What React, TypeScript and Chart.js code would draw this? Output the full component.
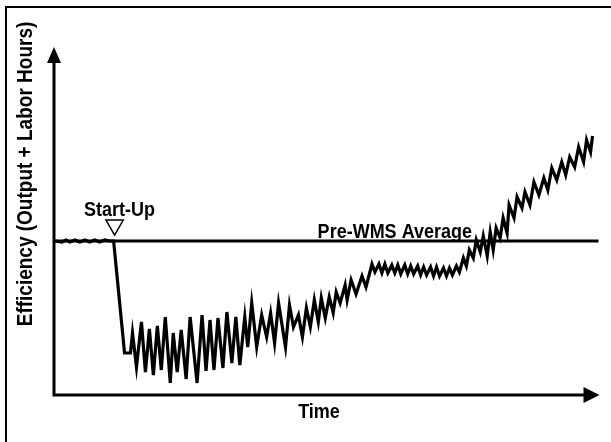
import { useEffect, useRef } from "react";
import { Chart, registerables } from "chart.js";

Chart.register(...registerables);

// Time (arbitrary units from the vertical axis) and efficiency (arbitrary units)
const TIME: number[] = [
  -1, 6, 10, 14, 19, 24, 29, 34, 39, 44, 49, 54, 58,
  69, 75, 77, 81, 86, 90, 94, 98, 102, 106, 110, 115, 118, 122, 126, 131, 135,
  142, 147, 151, 155, 159, 163, 168, 172, 177, 181, 185, 190, 193, 197, 202,
  207, 212, 216, 220, 224, 231, 235, 239, 244, 248, 252, 256, 260, 264, 267,
  271, 275, 279, 282, 286, 291, 293, 297, 302, 308, 312, 318,
  321, 325, 328, 331, 334, 338, 341, 344, 347, 351, 354, 357, 360, 364, 367,
  370, 373, 377, 380, 383, 386, 390, 393, 396, 399, 403, 406, 410,
  413, 416, 420, 423, 427, 430, 434, 437, 440, 443, 447, 450, 454, 456, 461,
  464, 469, 472, 477, 481, 486, 491, 495, 499, 504, 509, 513, 517, 522, 526,
  531, 534, 538, 540, 542,
];
const EFFICIENCY: number[] = [
  158, 157, 159, 157, 159, 157, 159, 157, 159, 157, 159, 158, 158,
  46, 46, 66, 32, 77, 27, 70, 24, 73, 29, 82, 16, 66, 27, 69, 20, 82,
  16, 84, 28, 79, 29, 81, 31, 87, 36, 82, 34, 82, 52, 96, 52,
  84, 62, 86, 56, 96, 52, 94, 72, 84, 62, 91, 72, 99, 77, 101,
  81, 102, 86, 107, 96, 114, 99, 119, 105, 123, 112, 135,
  127, 135, 126, 135, 126, 134, 126, 134, 125, 134, 125, 133, 125, 133, 124,
  132, 124, 132, 123, 132, 123, 131, 123, 131, 124, 133, 127,
  141, 133, 149, 141, 159, 147, 163, 143, 167, 149, 171, 161, 181, 166, 194,
  181, 202, 191, 207, 194, 217, 204, 221, 209, 231, 219, 237, 224, 242, 232,
  252, 237, 259, 247, 263,
];

const PRE_WMS_AVERAGE = 158;
const PRE_WMS_SPAN: number[] = [-2, 546];
const START_UP_TIME = 59;
const START_UP_MARK = 174;

const TEXT_START_UP = "Start-Up";
const TEXT_PRE_WMS = "Pre-WMS Average";
const TEXT_X_TITLE = "Time";
const TEXT_Y_TITLE = "Efficiency (Output + Labor Hours)";

const FONT = '"Liberation Sans", Arial, sans-serif';

function drawText(
  ctx: CanvasRenderingContext2D,
  text: string,
  x: number,
  y: number,
  size: number,
  rotate = 0,
  align: CanvasTextAlign = "center"
) {
  ctx.save();
  ctx.translate(x, y);
  if (rotate) ctx.rotate(rotate);
  ctx.scale(1, 1.12);
  ctx.font = `bold ${size}px ${FONT}`;
  ctx.fillStyle = "#000";
  ctx.textAlign = align;
  ctx.textBaseline = "alphabetic";
  ctx.fillText(text, 0, 0);
  ctx.restore();
}

const decorPlugin = {
  id: "decor",
  beforeDatasetsDraw(chart: any) {
    const { ctx, chartArea } = chart;
    const { left, right, top, bottom } = chartArea;
    ctx.save();
    // frame (top & left edges visible)
    ctx.strokeStyle = "#000";
    ctx.lineWidth = 2;
    ctx.beginPath();
    ctx.moveTo(6, chart.height + 5);
    ctx.lineTo(6, 7);
    ctx.lineTo(chart.width + 5, 7);
    ctx.stroke();

    // axes
    ctx.lineWidth = 3;
    ctx.beginPath();
    ctx.moveTo(left, top + 12);
    ctx.lineTo(left, bottom);
    ctx.lineTo(right - 12, bottom);
    ctx.stroke();
    ctx.fillStyle = "#000";
    // y arrow
    ctx.beginPath();
    ctx.moveTo(left, top + 3);
    ctx.lineTo(left - 7, top + 19);
    ctx.lineTo(left + 7, top + 19);
    ctx.closePath();
    ctx.fill();
    // x arrow
    ctx.beginPath();
    ctx.moveTo(right, bottom);
    ctx.lineTo(right - 16, bottom - 8);
    ctx.lineTo(right - 16, bottom + 8);
    ctx.closePath();
    ctx.fill();
    ctx.restore();
  },
  afterDatasetsDraw(chart: any) {
    const { ctx, chartArea, scales } = chart;
    const xs = scales.x;
    const ys = scales.y;
    drawText(ctx, TEXT_START_UP, xs.getPixelForValue(64), ys.getPixelForValue(183), 18);
    drawText(ctx, TEXT_PRE_WMS, xs.getPixelForValue(341), ys.getPixelForValue(161), 18);
    drawText(ctx, TEXT_X_TITLE, chartArea.left + 265, chartArea.bottom + 23, 18);
    drawText(ctx, TEXT_Y_TITLE, chartArea.left - 22, 174, 19, -Math.PI / 2);
  },
};

export default function App() {
  const ref = useRef<HTMLCanvasElement | null>(null);
  useEffect(() => {
    document.body.style.margin = "0";
    const canvas = ref.current!;
    const lineData = TIME.map((t, i) => ({ x: t, y: EFFICIENCY[i] }));
    const avgData = PRE_WMS_SPAN.map((t) => ({ x: t, y: PRE_WMS_AVERAGE }));
    const chart = new Chart(canvas, {
      type: "line",
      data: {
        datasets: [
          {
            label: "Pre-WMS Average",
            data: avgData,
            borderColor: "#000",
            borderWidth: 3,
            pointRadius: 0,
            tension: 0,
          },
          {
            label: "Efficiency",
            data: lineData,
            borderColor: "#000",
            borderWidth: 3.2,
            pointRadius: 0,
            tension: 0,
            borderJoinStyle: "miter",
          },
          {
            label: "Start-Up",
            type: "scatter",
            data: [{ x: START_UP_TIME, y: START_UP_MARK }],
            pointStyle: "triangle",
            rotation: 180,
            radius: 10,
            backgroundColor: "#fff",
            borderColor: "#000",
            borderWidth: 1.5,
          } as any,
        ],
      },
      options: {
        responsive: false,
        animation: false,
        devicePixelRatio: 1,
        layout: { padding: { left: 54, right: 8, top: 44, bottom: 47 } },
        scales: {
          x: { type: "linear", min: -2, max: 547, display: false },
          y: { type: "linear", min: 4, max: 355, display: false },
        },
        plugins: { legend: { display: false }, tooltip: { enabled: false } },
      },
      plugins: [decorPlugin],
    });
    return () => chart.destroy();
  }, []);
  return (
    <canvas
      ref={ref}
      width={611}
      height={442}
      style={{ display: "block", width: 611, height: 442 }}
    />
  );
}
